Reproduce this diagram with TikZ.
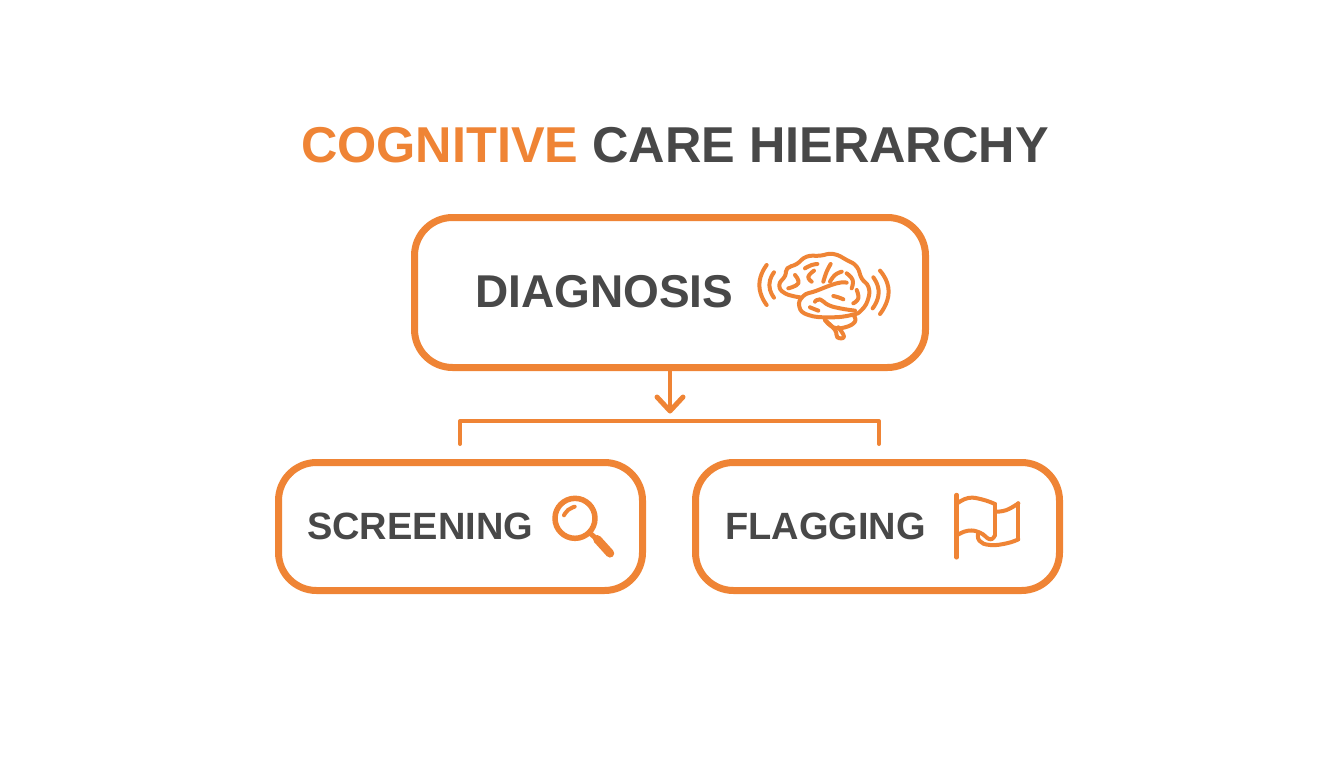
\documentclass[tikz,border=0pt]{standalone}
\usepackage{fontspec}
\setmainfont{Liberation Sans}
\definecolor{careorange}{HTML}{EF8435}
\definecolor{caregray}{HTML}{484848}
\tikzset{
  carebox/.style={draw=careorange,line width=7pt,rounded corners=38pt,fill=white,inner sep=0pt},
  boxlabel/.style={text=caregray,font=\bfseries\fontsize{#1}{#1}\selectfont,inner sep=0pt,anchor=west},
  iconline/.style={draw=careorange,line cap=round,line join=round,line width=#1},
  iconline/.default=4pt
}
\begin{document}
\begin{tikzpicture}[x=1pt,y=-1pt]
  \useasboundingbox (0,0) rectangle (1344,768);
  \node[inner sep=0pt,font=\bfseries\fontsize{50.4}{52}\selectfont,text=caregray] (title) at (675,145.5) {\textcolor{careorange}{COGNITIVE} CARE HIERARCHY};
  \node[carebox,minimum width=511pt,minimum height=150pt] (diagnosis) at (670,292.5) {};
  \node[carebox,minimum width=364pt,minimum height=128pt] (screening) at (460.5,526.5) {};
  \node[carebox,minimum width=364pt,minimum height=128pt] (flagging) at (877.5,526.5) {};
  \node[boxlabel=46] (diagnosislabel) at (475,292) {DIAGNOSIS};
  \node[boxlabel=38] (screeninglabel) at (307,526) {SCREENING};
  \node[boxlabel=38] (flagginglabel) at (725,526) {FLAGGING};
  % connector
  \coordinate (tip) at (670,411);
  \coordinate (brleft) at (460,444);
  \coordinate (brright) at (879,444);
  \coordinate (brtop) at (670,421);
  \draw[iconline=4pt] (diagnosis.south)--(tip);
  \draw[iconline=5pt] (657,397)--(tip)--(683,397);
  \draw[iconline=4pt] (brleft)--(brleft|-brtop)--(brright|-brtop)--(brright);
  % brain
  \begin{scope}[shift={(740,240)},x=0.3333pt,y=-0.3333pt]
    \foreach \a/\b/\c in {80/75/58,102/97/88} {
      \draw[iconline] plot[smooth,tension=1] coordinates {(\a,\b) (\c,135) (\a,270-\b)};
    }
    \draw[iconline] plot[smooth,tension=1] coordinates {(400,112) (416,158) (398,205)};
    \draw[iconline] plot[smooth,tension=1] coordinates {(420,92) (446,155) (420,222)};
    \draw[iconline] plot[smooth,tension=0.8] coordinates {(180,172) (135,160) (118,135) (135,108) (142,85) (170,72) (200,50) (240,47) (280,42) (320,60) (350,80) (365,115) (385,140) (385,175) (365,210) (335,225) (270,232) (205,225) (178,200) (190,168) (230,152) (290,130) (320,128)};
    \draw[iconline] plot[smooth,tension=0.8] coordinates {(340,225) (345,245) (315,262) (280,262) (255,240)};
    \draw[iconline] plot[smooth,tension=0.8] coordinates {(255,240) (285,270) (292,292) (312,290) (295,262)};
    \draw[iconline] plot[smooth,tension=0.8] coordinates {(145,145) (175,130) (165,105)};
    \draw[iconline] plot[smooth,tension=0.8] coordinates {(195,85) (215,75) (232,72)};
    \draw[iconline] plot[smooth,tension=0.8] coordinates {(215,125) (205,110) (222,92)};
    \draw[iconline] plot[smooth,tension=0.8] coordinates {(250,125) (260,95) (272,72)};
    \draw[iconline] plot[smooth,tension=0.8] coordinates {(270,125) (285,105) (305,95)};
    \draw[iconline] plot[smooth,tension=0.8] coordinates {(320,100) (338,120) (335,145)};
    \draw[iconline] plot[smooth,tension=0.8] coordinates {(280,168) (295,172) (310,178)};
    \draw[iconline] plot[smooth,tension=0.8] coordinates {(340,190) (355,175) (350,150)};
    \draw[iconline] plot[smooth,tension=0.8] coordinates {(225,185) (240,178) (265,195) (300,205) (345,212)};
    \draw[iconline] plot[smooth,tension=0.8] coordinates {(210,202) (222,207) (235,212)};
  \end{scope}
  % magnifier
  \begin{scope}[shift={(540,480)},x=0.3333pt,y=-0.3333pt]
    \draw[iconline=5.5pt] (105,115) circle[radius=60];
    \draw[iconline=8.5pt] (172,178)--(210,220);
    \draw[iconline=5pt] (148,158)--(172,178);
    \draw[iconline] plot[smooth,tension=0.8] coordinates {(72,106) (84,90) (104,80)};
  \end{scope}
  % flag
  \begin{scope}[shift={(940,480)},x=0.3333pt,y=-0.3333pt]
    \draw[iconline=4.5pt] (50,45)--(50,232);
    \draw[iconline] plot[smooth,tension=0.8] coordinates {(52,70) (85,54) (125,58) (165,72)};
    \draw[iconline] (165,72)--(165,165);
    \draw[iconline] plot[smooth,tension=0.8] coordinates {(52,165) (85,152) (120,158) (150,178) (165,165)};
    \draw[iconline] plot[smooth,tension=0.8] coordinates {(168,95) (200,90) (235,70)};
    \draw[iconline] (235,70)--(235,178);
    \draw[iconline] plot[smooth,tension=0.8] coordinates {(235,178) (200,190) (150,195) (118,182) (115,158)};
  \end{scope}
\end{tikzpicture}
\end{document}
